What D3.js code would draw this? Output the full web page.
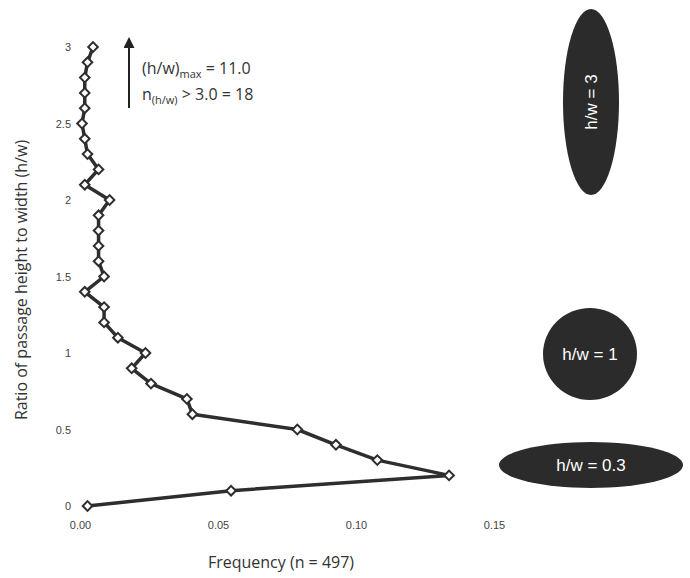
<!DOCTYPE html>
<html>
<head>
<meta charset="utf-8">
<script src="https://cdn.jsdelivr.net/npm/d3@7"></script>
<style>
  body { margin: 0; background: #fff; }
  svg { display: block; }
</style>
</head>
<body>
<svg id="chart" width="690" height="578"></svg>
<script>
// ---- data ----
const heights = [0, 0.1, 0.2, 0.3, 0.4, 0.5, 0.6, 0.7, 0.8, 0.9, 1.0,
                 1.1, 1.2, 1.3, 1.4, 1.5, 1.6, 1.7, 1.8, 1.9, 2.0,
                 2.1, 2.2, 2.3, 2.4, 2.5, 2.6, 2.7, 2.8, 2.9, 3.0];
const frequencies = [0.002, 0.054, 0.133, 0.107, 0.092, 0.078, 0.040, 0.038, 0.025, 0.018, 0.023,
                     0.013, 0.008, 0.008, 0.001, 0.008, 0.006, 0.006, 0.006, 0.006, 0.010,
                     0.001, 0.006, 0.002, 0.001, 0.000, 0.001, 0.001, 0.001, 0.002, 0.004];
const xTicks = [0, 0.05, 0.10, 0.15];
const yTicks = [0, 0.5, 1, 1.5, 2, 2.5, 3];
const shapeLabels = ["h/w = 3", "h/w = 1", "h/w = 0.3"];
const shapeRatios = [3, 1, 0.3];

const svg = d3.select("#chart");
const x = d3.scaleLinear().domain([0, 0.15]).range([82, 496]);
const y = d3.scaleLinear().domain([0, 3]).range([506, 47]);

// axes (no domain lines / tick marks)
const xAxis = svg.append("g")
  .attr("transform", "translate(0,512)")
  .call(d3.axisBottom(x).tickValues(xTicks).tickFormat(d3.format(".2f")).tickSize(0).tickPadding(9));
const yAxis = svg.append("g")
  .attr("transform", "translate(82,0)")
  .call(d3.axisLeft(y).tickValues(yTicks).tickFormat(d => d3.format("")(d)).tickSize(0).tickPadding(11));
[xAxis, yAxis].forEach(g => {
  g.select(".domain").remove();
  g.selectAll("text")
    .attr("font-family", "'Liberation Sans', Arial, sans-serif")
    .attr("font-size", 11)
    .attr("fill", "#444");
});
xAxis.selectAll("text").attr("dx", "-2");

// axis titles
svg.append("text")
  .attr("x", 281).attr("y", 568)
  .attr("text-anchor", "middle")
  .attr("font-family", "'Open Sans', sans-serif")
  .attr("font-size", 16)
  .attr("fill", "#333")
  .text("Frequency (n = 497)");
svg.append("text")
  .attr("transform", "translate(27,280) rotate(-90)")
  .attr("text-anchor", "middle")
  .attr("font-family", "'Open Sans', sans-serif")
  .attr("font-size", 16)
  .attr("fill", "#333")
  .text("Ratio of passage height to width (h/w)");

// line
const data = heights.map((h, i) => ({ h, f: frequencies[i] }));
svg.append("path")
  .datum(data)
  .attr("fill", "none")
  .attr("stroke", "#2e2e2e")
  .attr("stroke-width", 3.5)
  .attr("stroke-linejoin", "round")
  .attr("d", d3.line().x(d => x(d.f)).y(d => y(d.h)));

// diamond markers
svg.selectAll(".pt")
  .data(data)
  .join("path")
  .attr("class", "pt")
  .attr("transform", d => `translate(${x(d.f)},${y(d.h)}) rotate(45)`)
  .attr("d", d3.symbol().type(d3.symbolSquare).size(46)())
  .attr("fill", "#fff")
  .attr("stroke", "#2e2e2e")
  .attr("stroke-width", 2);

// annotation arrow
const defs = svg.append("defs");
defs.append("marker")
  .attr("id", "arrowhead")
  .attr("viewBox", "0 0 10 10")
  .attr("refX", 5).attr("refY", 10)
  .attr("markerWidth", 11).attr("markerHeight", 20)
  .attr("markerUnits", "userSpaceOnUse")
  .attr("orient", "0")
  .append("path")
  .attr("d", "M0,10 L5,0 L10,10 Z")
  .attr("fill", "#222");
svg.append("line")
  .attr("x1", 129).attr("x2", 129)
  .attr("y1", 108).attr("y2", 48)
  .attr("stroke", "#222").attr("stroke-width", 2)
  .attr("marker-end", "url(#arrowhead)");

const ann = svg.append("g")
  .attr("font-family", "'Open Sans', sans-serif")
  .attr("font-size", 16)
  .attr("fill", "#333");
const t1 = ann.append("text").attr("x", 142).attr("y", 74);
t1.append("tspan").text("(h/w)");
t1.append("tspan").attr("font-size", 11).attr("dy", 4).text("max");
t1.append("tspan").attr("dy", -4).text(" = 11.0");
const t2 = ann.append("text").attr("x", 142).attr("y", 99.5);
t2.append("tspan").text("n");
t2.append("tspan").attr("font-size", 11).attr("dy", 4).text("(h/w)");
t2.append("tspan").attr("dy", -4).text(" > 3.0 = 18");

// shape ellipses
const shapes = [
  { label: shapeLabels[0], ratio: shapeRatios[0], cx: 591, cy: 102, rx: 28, ry: 93, rot: true },
  { label: shapeLabels[1], ratio: shapeRatios[1], cx: 590, cy: 354, rx: 47, ry: 46, rot: false },
  { label: shapeLabels[2], ratio: shapeRatios[2], cx: 591, cy: 465, rx: 92, ry: 23, rot: false }
];
const sg = svg.selectAll(".shape").data(shapes).join("g").attr("class", "shape");
sg.append("ellipse")
  .attr("cx", d => d.cx).attr("cy", d => d.cy)
  .attr("rx", d => d.rx).attr("ry", d => d.ry)
  .attr("fill", "#2b2b2b");
sg.append("text")
  .attr("transform", d => `translate(${d.cx},${d.cy})` + (d.rot ? " rotate(-90)" : ""))
  .attr("text-anchor", "middle")
  .attr("dy", "0.35em")
  .attr("font-family", "'Liberation Sans', Arial, sans-serif")
  .attr("font-size", 17)
  .attr("fill", "#fff")
  .text(d => d.label);
</script>
</body>
</html>
